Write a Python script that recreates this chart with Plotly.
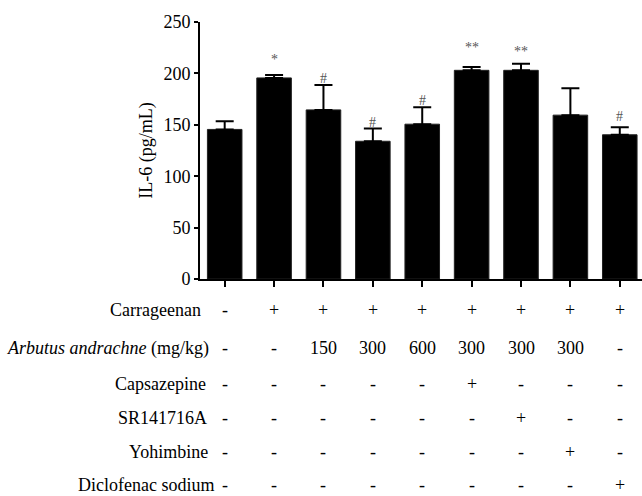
import plotly.graph_objects as go

# ---- data ----
groups = ["G1", "G2", "G3", "G4", "G5", "G6", "G7", "G8", "G9"]
il6_mean = [145.5, 195.6, 164.5, 134.0, 150.6, 203.0, 203.0, 159.4, 140.3]
il6_err = [8.0, 2.9, 24.3, 12.4, 16.4, 3.3, 6.4, 26.2, 7.4]
sig_marks = ["", "*", "#", "#", "#", "**", "**", "", "#"]
sig_y = [None, 214.0, 195.3, 152.6, 173.3, 225.0, 221.5, None, 158.4]

row_labels = ["Carrageenan", "<i>Arbutus andrachne</i> (mg/kg)", "Capsazepine",
              "SR141716A", "Yohimbine", "Diclofenac sodium"]
table_values = [
    ["-", "+", "+", "+", "+", "+", "+", "+", "+"],
    ["-", "-", "150", "300", "600", "300", "300", "300", "-"],
    ["-", "-", "-", "-", "-", "+", "-", "-", "-"],
    ["-", "-", "-", "-", "-", "-", "+", "-", "-"],
    ["-", "-", "-", "-", "-", "-", "-", "+", "-"],
    ["-", "-", "-", "-", "-", "-", "-", "-", "+"],
]
y_ticks = [0, 50, 100, 150, 200, 250]

FONT = "Liberation Serif"
W, H = 642, 496
L, R, T, B = 200, 0, 22, 217
pw, ph = W - L - R, H - T - B

def px_to_paper_x(px):
    return (px - L) / pw

def py_to_paper_y(py):
    return (H - B - py) / ph

fig = go.Figure()
fig.add_trace(go.Bar(
    x=list(range(len(groups))), y=il6_mean,
    marker=dict(color="black", line=dict(color="#222222", width=1)),
    width=0.7,
    error_y=dict(type="data", symmetric=False, array=il6_err,
                 arrayminus=[0] * len(il6_err),
                 color="black", thickness=2, width=9),
    showlegend=False, hoverinfo="skip",
))

annotations = []
for i, m in enumerate(sig_marks):
    if m:
        annotations.append(dict(
            x=i, y=sig_y[i], xref="x", yref="y",
            text=m, showarrow=False, yanchor="middle",
            font=dict(family=FONT, size=14, color="#555555")))

row_py = [310, 348, 384, 418, 452, 485]
label_right_px = [202, 210, 207, 208, 209, 215]
for r, lab in enumerate(row_labels):
    annotations.append(dict(
        x=px_to_paper_x(label_right_px[r]), y=py_to_paper_y(row_py[r]),
        xref="paper", yref="paper",
        text=lab, showarrow=False, xanchor="right", yanchor="middle",
        borderpad=0,
        font=dict(family=FONT, size=18, color="black")))
    for c, v in enumerate(table_values[r]):
        annotations.append(dict(
            x=c, y=py_to_paper_y(row_py[r]),
            xref="x", yref="paper", text=v, showarrow=False,
            xanchor="center", yanchor="middle", borderpad=0,
            font=dict(family=FONT, size=18, color="black")))

fig.update_layout(
    width=W, height=H,
    margin=dict(l=L, r=R, t=T, b=B, pad=0),
    paper_bgcolor="white", plot_bgcolor="white",
    font=dict(family=FONT, size=18, color="black"),
    xaxis=dict(range=[-0.5, 8.45], showgrid=False, zeroline=False,
               showline=True, linecolor="black", linewidth=2,
               tickmode="array", tickvals=list(range(len(groups))),
               ticks="outside", ticklen=6, tickwidth=2, tickcolor="black",
               showticklabels=False, fixedrange=True),
    yaxis=dict(range=[0, 250], showgrid=False, zeroline=False,
               showline=True, linecolor="black", linewidth=2,
               tickmode="array", tickvals=y_ticks,
               ticks="outside", ticklen=4, tickwidth=2, tickcolor="black",
               tickfont=dict(family=FONT, size=18),
               title=dict(text="IL-6 (pg/mL)", font=dict(family=FONT, size=18),
                          standoff=6)),
    annotations=annotations,
)

fig.write_html("out.html")
